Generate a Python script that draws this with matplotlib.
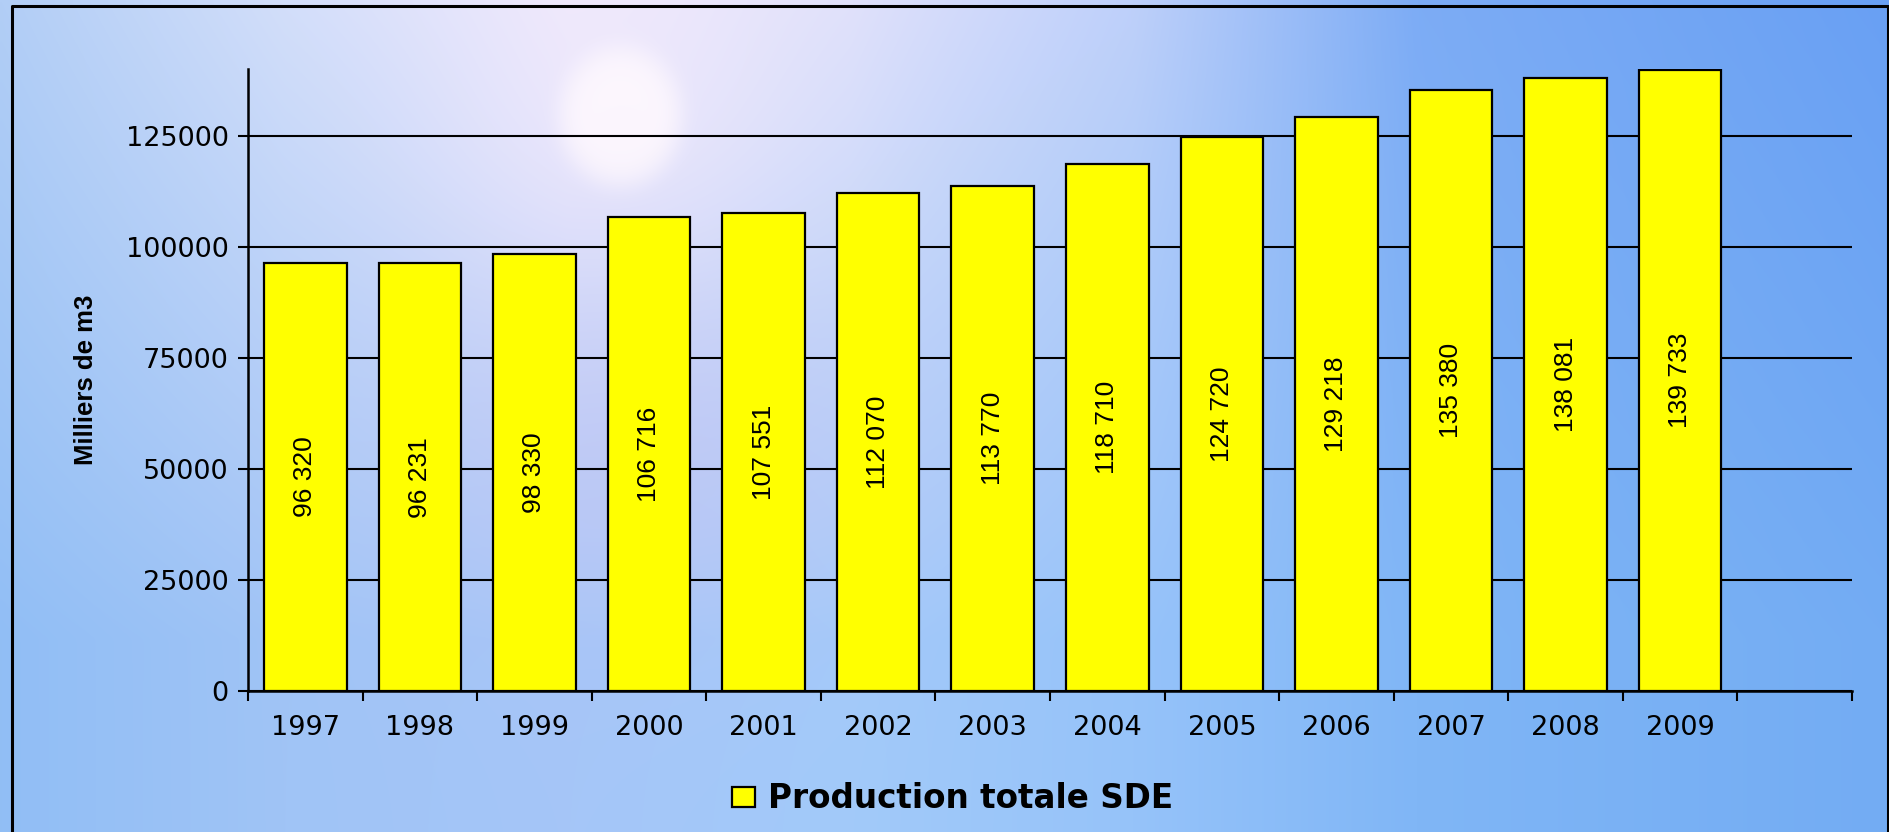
import numpy as np
import matplotlib
matplotlib.use("Agg")
from matplotlib import pyplot as plt
from matplotlib import font_manager
from matplotlib.lines import Line2D

years = ["1997", "1998", "1999", "2000", "2001", "2002", "2003",
         "2004", "2005", "2006", "2007", "2008", "2009"]
production = [96320, 96231, 98330, 106716, 107551, 112070, 113770,
              118710, 124720, 129218, 135380, 138081, 139733]
yticks = [0, 25000, 50000, 75000, 100000, 125000]
series_name = "Production totale SDE"
ylabel = "Milliers de m3"

W, H = 1890, 832

installed = {f.name for f in font_manager.fontManager.ttflist}
if "Liberation Sans Narrow" in installed:
    narrow, label_size, ylab_size = "Liberation Sans Narrow", 22.5, 22
else:
    narrow, label_size, ylab_size = "Liberation Sans", 19, 18.5


def make_background(h, w):
    # sky-like backdrop: horizontal blue gradient with a bright flare up left
    xs = np.linspace(0, 1, w)
    ys = np.linspace(0, 1, h)
    X, Y = np.meshgrid(xs, ys)
    stops_x = [0.0, 0.15, 0.3, 0.45, 0.6, 0.75, 1.0]
    top = np.array([[178, 206, 246], [210, 222, 250], [234, 230, 252],
                    [222, 224, 250], [190, 208, 250], [125, 172, 245],
                    [105, 160, 243]], float)
    bot = np.array([[145, 190, 245], [160, 196, 246], [165, 198, 248],
                    [162, 202, 250], [150, 195, 250], [128, 182, 246],
                    [115, 172, 243]], float)
    img = np.zeros((h, w, 3))
    for c in range(3):
        t = np.interp(X, stops_x, top[:, c])
        b = np.interp(X, stops_x, bot[:, c])
        img[..., c] = t + (b - t) * np.clip(Y * 1.3, 0, 1)
    # sun flare
    r = np.sqrt(((X - 0.328) * 2.6) ** 2 + (Y - 0.138) ** 2)
    glow = np.exp(-(r / 0.085) ** 6)
    img = img + (255 - img) * glow[..., None]
    halo = np.exp(-(r / 0.26) ** 2)
    img = img + (np.array([250, 238, 252]) - img) * halo[..., None] * 0.5
    # purple haze in the middle
    r2 = np.sqrt(((X - 0.35) * 1.6) ** 2 + (Y - 0.55) ** 2)
    haze = np.exp(-(r2 / 0.22) ** 2)
    img = img + (np.array([198, 192, 240]) - img) * haze[..., None] * 0.4
    return np.clip(img, 0, 255) / 255.0


fig = plt.figure(figsize=(W / 100, H / 100), dpi=100)

bg = fig.add_axes([0, 0, 1, 1], zorder=-10)
bg.imshow(make_background(208, 472), aspect="auto", interpolation="bilinear",
          extent=[0, 1, 0, 1])
bg.set_axis_off()

# outer frame (only left / top / right edges visible)
fx0, fy1, fx1 = 11.5 / W, 1 - 6 / H, 1888.5 / W
fig.add_artist(Line2D([fx0, fx0, fx1, fx1], [0, fy1, fy1, 0],
                      transform=fig.transFigure, color="black", lw=2.2))

ax = fig.add_axes([248 / W, 141 / H, (1852 - 248) / W, (691 - 69) / H])
ax.set_facecolor("none")

x = np.arange(len(years))
bars = ax.bar(x, production, width=0.72, color="#ffff00",
              edgecolor="black", linewidth=1.6, zorder=3,
              label=series_name)

for xi, v in zip(x, production):
    ax.text(xi, v / 2, f"{v:,}".replace(",", " "), rotation=90,
            ha="center", va="center", fontsize=label_size,
            family=[narrow, "DejaVu Sans"], zorder=4)

ax.set_xlim(-0.5, len(years) + 0.5)
ax.set_ylim(0, 140000)

ax.set_yticks(yticks)
ax.set_yticklabels([str(t) for t in yticks], fontsize=19.5)
ax.yaxis.grid(True, color="black", linewidth=1.5, zorder=0)
ax.set_axisbelow(True)

# ticks between categories, labels under the bars
ax.set_xticks(np.arange(-0.5, len(years) + 1, 1.0))
ax.set_xticklabels([])
ax.set_xticks(x, minor=True)
ax.set_xticklabels(years, minor=True, fontsize=19.5)
ax.tick_params(axis="x", which="minor", length=0, pad=17)
ax.tick_params(axis="both", which="major", length=7, width=1.5,
               direction="out", color="black")
ax.tick_params(axis="y", pad=7)

for side in ["top", "right"]:
    ax.spines[side].set_visible(False)
for side in ["left", "bottom"]:
    ax.spines[side].set_linewidth(1.8)

ax.set_ylabel(ylabel, fontsize=ylab_size, fontweight="bold",
              family=[narrow, "DejaVu Sans"], labelpad=20)

fig.legend(handles=[bars], labels=[series_name], loc="center",
           bbox_to_anchor=(0.504, 0.04), frameon=False,
           prop={"family": "DejaVu Sans", "weight": "bold", "size": 23.5},
           handlelength=0.7, handleheight=0.55, handletextpad=0.4)

plt.savefig("out.png", dpi=100)
